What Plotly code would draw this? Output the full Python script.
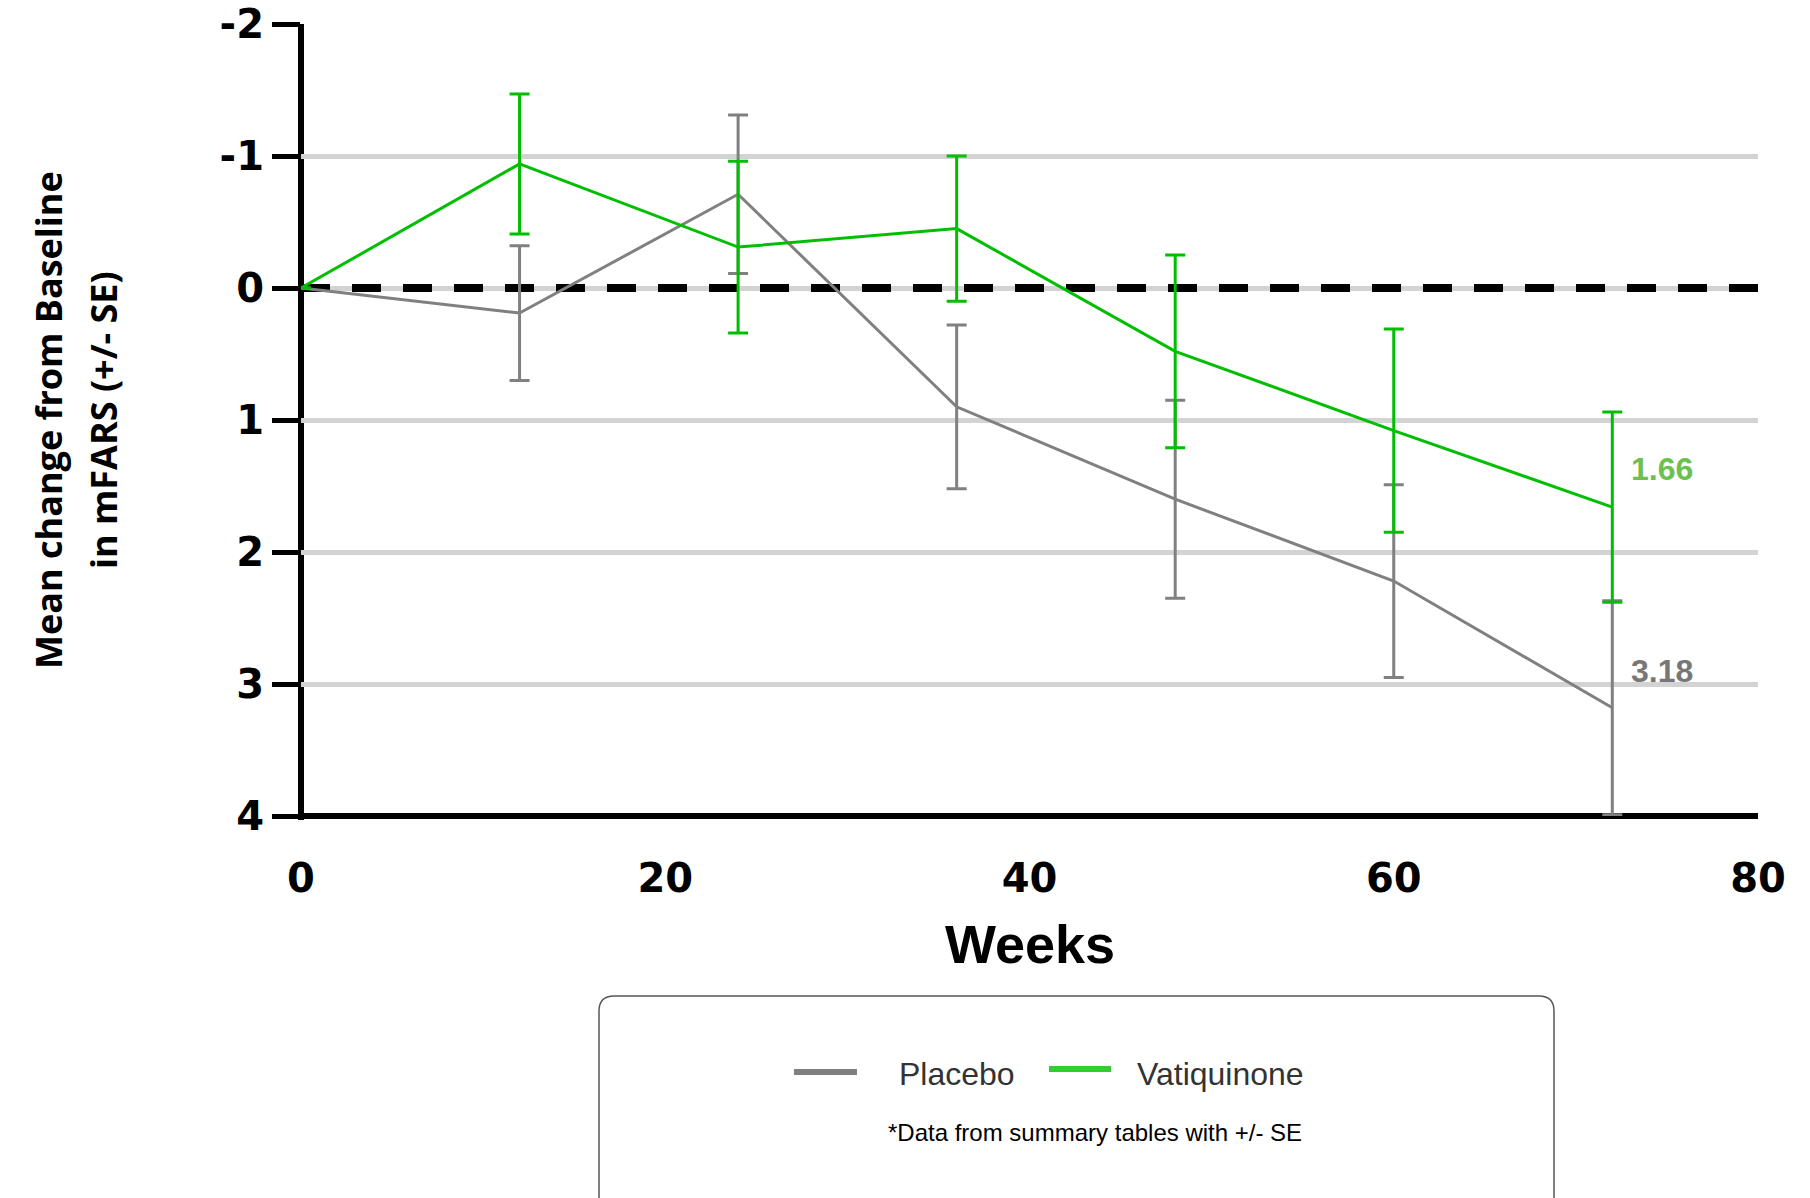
import plotly.graph_objects as go

# ---- data ----
weeks = [0, 12, 24, 36, 48, 60, 72]
placebo_mean = [0, 0.19, -0.71, 0.90, 1.60, 2.22, 3.18]
placebo_se = [0, 0.51, 0.60, 0.62, 0.75, 0.73, 0.81]
vati_mean = [0, -0.94, -0.31, -0.45, 0.48, 1.08, 1.66]
vati_se = [0, 0.53, 0.65, 0.55, 0.73, 0.77, 0.72]
series_names = ["Placebo", "Vatiquinone"]
y_ticks = [-2, -1, 0, 1, 2, 3, 4]
x_ticks = [0, 20, 40, 60, 80]
end_labels = ["3.18", "1.66"]

GRAY = "#808080"
GREEN = "#00bf00"
W, H = 1810, 1198
ML, MR, MT, MB = 301, 52, 24, 382
PW, PH = W - ML - MR, H - MT - MB


def px(x):
    return (x - ML) / PW


def py(y):
    return (H - MB - y) / PH


fig = go.Figure()
for name, mean, se, col in [
    (series_names[0], placebo_mean, placebo_se, GRAY),
    (series_names[1], vati_mean, vati_se, GREEN),
]:
    fig.add_trace(go.Scatter(
        x=weeks, y=mean, mode="lines", name=name,
        line=dict(color=col, width=3),
        error_y=dict(type="data", array=se, visible=True, color=col,
                     thickness=3, width=10),
        showlegend=False,
    ))

# zero reference dashed line
fig.add_shape(type="line", xref="x", yref="y", x0=0, x1=80, y0=0, y1=0,
              line=dict(color="black", width=8, dash="29px,22px"),
              layer="between")

# axis lines centred on the plot edges
fig.add_shape(type="line", xref="paper", yref="paper", x0=0, x1=0,
              y0=py(820), y1=1, line=dict(color="black", width=6),
              layer="between")
fig.add_shape(type="line", xref="paper", yref="paper", x0=px(298), x1=1,
              y0=0, y1=0, line=dict(color="black", width=6),
              layer="between")

# end labels
fig.add_annotation(x=72.9, y=vati_mean[-1] - 0.29, xref="x", yref="y",
                   text=end_labels[1], showarrow=False, xanchor="left",
                   yanchor="middle",
                   font=dict(family="Liberation Sans", size=32, color="#6cc04f",
                             weight="bold"))
fig.add_annotation(x=72.9, y=placebo_mean[-1] - 0.28, xref="x", yref="y",
                   text=end_labels[0], showarrow=False, xanchor="left",
                   yanchor="middle",
                   font=dict(family="Liberation Sans", size=32, color="#777777",
                             weight="bold"))

# y-axis title (two lines)
ytfont = dict(family="Open Sans", size=36, color="black", weight="bold")
fig.add_annotation(x=px(48), y=0.5, xref="paper", yref="paper",
                   text="Mean change from Baseline", textangle=-90,
                   showarrow=False, xanchor="center", yanchor="middle",
                   font=ytfont)
fig.add_annotation(x=px(103), y=0.5, xref="paper", yref="paper",
                   text="in mFARS (+/- SE)", textangle=-90,
                   showarrow=False, xanchor="center", yanchor="middle",
                   font=ytfont)

# x-axis title
fig.add_annotation(x=0.5, y=py(944), xref="paper", yref="paper",
                   text="Weeks", showarrow=False, xanchor="center",
                   yanchor="middle",
                   font=dict(family="Liberation Sans", size=54, color="black",
                             weight="bold"))

# legend box (manual)
x1, x2, y1, y2, r = 599, 1554, 996, 1230, 15
path = (f"M{px(x1 + r)},{py(y1)} L{px(x2 - r)},{py(y1)} "
        f"Q{px(x2)},{py(y1)} {px(x2)},{py(y1 + r)} "
        f"L{px(x2)},{py(y2)} L{px(x1)},{py(y2)} L{px(x1)},{py(y1 + r)} "
        f"Q{px(x1)},{py(y1)} {px(x1 + r)},{py(y1)} Z")
fig.add_shape(type="path", xref="paper", yref="paper", path=path,
              line=dict(color="#555555", width=1.5), fillcolor="white",
              layer="above")

leg_font = dict(family="Liberation Sans", size=32, color="#333333")
for (xa, xb, ly, col), (tx, name) in zip(
        [(794, 857, 1072, GRAY), (1049, 1111, 1069, "#33cc33")],
        [(897, series_names[0]), (1135, series_names[1])]):
    fig.add_shape(type="line", xref="paper", yref="paper",
                  x0=px(xa), x1=px(xb), y0=py(ly), y1=py(ly),
                  line=dict(color=col, width=6), layer="above")
    fig.add_annotation(x=px(tx), y=py(1074), xref="paper", yref="paper",
                       text=name, showarrow=False, xanchor="left",
                       yanchor="middle", font=leg_font)

fig.add_annotation(x=px(1095), y=py(1132), xref="paper", yref="paper",
                   text="*Data from summary tables with +/- SE",
                   showarrow=False, xanchor="center", yanchor="middle",
                   font=dict(family="Liberation Sans", size=24, color="black"))

tickfont = dict(family="DejaVu Sans", size=40, color="black", weight="bold")
fig.update_layout(
    width=W, height=H,
    margin=dict(l=ML, r=MR, t=MT, b=MB, pad=0, autoexpand=False),
    paper_bgcolor="white", plot_bgcolor="white",
    showlegend=False,
    xaxis=dict(range=[0, 80], tickvals=x_ticks,
               ticktext=[str(v) for v in x_ticks],
               showgrid=False, zeroline=False, showline=False, ticks="",
               ticklabelstandoff=35, tickfont=tickfont, automargin=False),
    yaxis=dict(range=[4, -2], tickvals=y_ticks,
               ticktext=[str(v) for v in y_ticks],
               showgrid=True, gridcolor="#d3d3d3", gridwidth=5,
               zeroline=False, showline=False,
               ticks="outside", ticklen=28, tickwidth=5,
               tickcolor="black", tickfont=tickfont, automargin=False),
)

fig.write_html("out.html",
               config={"displayModeBar": False, "staticPlot": True},
               post_script="document.body.style.margin='0';"
                           "document.body.style.overflow='hidden';")
